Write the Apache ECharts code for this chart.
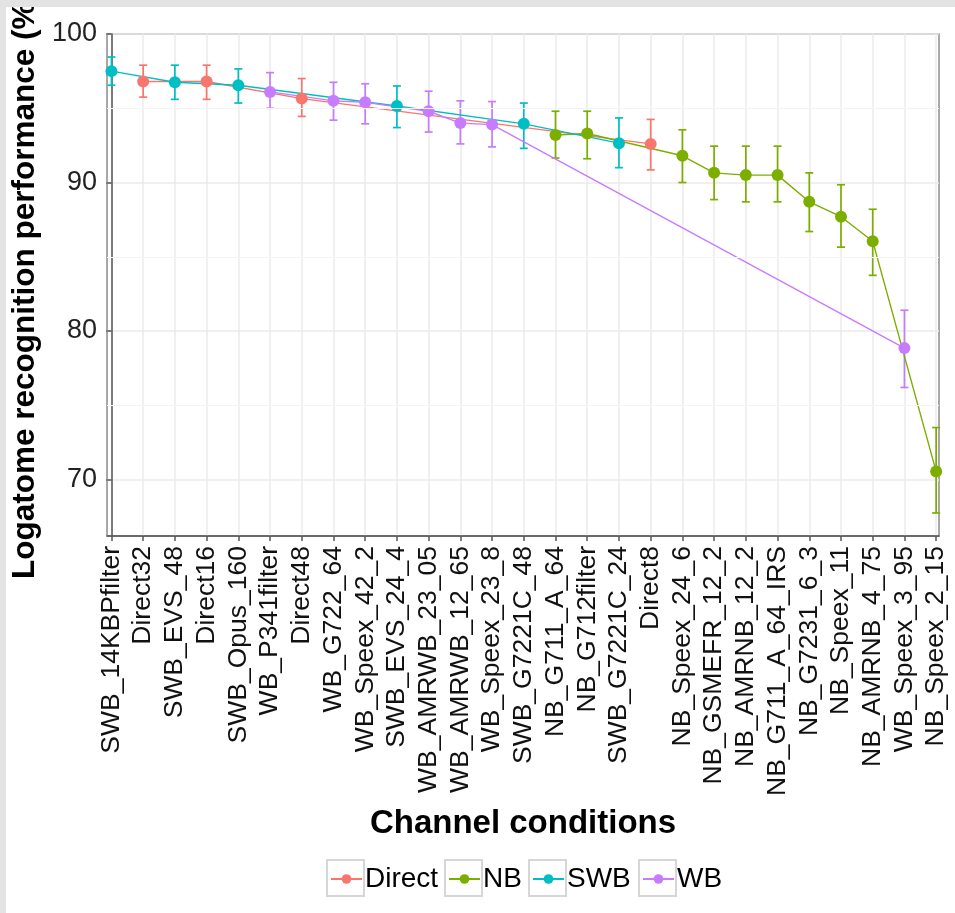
<!DOCTYPE html>
<html>
<head>
<meta charset="utf-8">
<script src="https://cdn.jsdelivr.net/npm/echarts@6/dist/echarts.min.js"></script>
<style>
  html, body { margin: 0; padding: 0; background: #fff; }
  #chart { width: 955px; height: 913px; }
</style>
</head>
<body>
<div id="chart"></div>
<script>
var categories = ['SWB_14KBPfilter', 'Direct32', 'SWB_EVS_48', 'Direct16', 'SWB_Opus_160',
    'WB_P341filter', 'Direct48', 'WB_G722_64', 'WB_Speex_42_2', 'SWB_EVS_24_4',
    'WB_AMRWB_23_05', 'WB_AMRWB_12_65', 'WB_Speex_23_8', 'SWB_G7221C_48', 'NB_G711_A_64',
    'NB_G712filter', 'SWB_G7221C_24', 'Direct8', 'NB_Speex_24_6', 'NB_GSMEFR_12_2',
    'NB_AMRNB_12_2', 'NB_G711_A_64_IRS', 'NB_G7231_6_3', 'NB_Speex_11', 'NB_AMRNB_4_75',
    'WB_Speex_3_95', 'NB_Speex_2_15'];
var groups = ['SWB', 'Direct', 'SWB', 'Direct', 'SWB', 'WB', 'Direct', 'WB', 'WB', 'SWB',
    'WB', 'WB', 'WB', 'SWB', 'NB', 'NB', 'SWB', 'Direct', 'NB', 'NB',
    'NB', 'NB', 'NB', 'NB', 'NB', 'WB', 'NB'];
var means = [97.5, 96.8, 96.75, 96.8, 96.55, 96.1, 95.65, 95.5, 95.4, 95.15,
    94.8, 94.0, 93.9, 93.95, 93.2, 93.3, 92.65, 92.6, 91.8, 90.65,
    90.5, 90.5, 88.7, 87.7, 86.05, 78.85, 70.55];
var lows = [96.55, 95.75, 95.6, 95.6, 95.35, 95.0, 94.45, 94.2, 93.95, 93.7,
    93.4, 92.6, 92.4, 92.3, 91.65, 91.6, 91.0, 90.85, 90.0, 88.85,
    88.7, 88.7, 86.7, 85.65, 83.75, 76.2, 67.75];
var highs = [98.45, 97.9, 97.9, 97.9, 97.65, 97.4, 97.0, 96.75, 96.65, 96.5,
    96.15, 95.5, 95.45, 95.35, 94.8, 94.8, 94.35, 94.25, 93.55, 92.45,
    92.45, 92.45, 90.65, 89.85, 88.2, 81.4, 73.5];
var groupNames = ['Direct', 'NB', 'SWB', 'WB'];
var yTicks = [70, 80, 90, 100];
var yMinor = [75, 85, 95];

var colors = {Direct: '#F8766D', NB: '#7CAE00', SWB: '#00BFC4', WB: '#C77CFF'};
var font = "'Liberation Sans', Arial, sans-serif";
var xIdx = categories.map(function (c, i) { return i; });

// error bars, one item per category
var barData = categories.map(function (c, i) {
    return {value: [i, lows[i], highs[i]], itemStyle: {color: colors[groups[i]]}};
});

function renderErrorBar(params, api) {
    var top = api.coord([api.value(0), api.value(2)]);
    var bot = api.coord([api.value(0), api.value(1)]);
    var w = 4;
    var style = {stroke: api.visual('color'), lineWidth: 1.7};
    return {
        type: 'group',
        children: [
            {type: 'line', shape: {x1: top[0], y1: top[1], x2: bot[0], y2: bot[1]}, style: style},
            {type: 'line', shape: {x1: top[0] - w, y1: top[1], x2: top[0] + w, y2: top[1]}, style: style},
            {type: 'line', shape: {x1: bot[0] - w, y1: bot[1], x2: bot[0] + w, y2: bot[1]}, style: style}
        ]
    };
}

var series = [{
    type: 'custom',
    renderItem: renderErrorBar,
    data: barData,
    z: 3,
    markLine: {
        silent: true,
        symbol: 'none',
        label: {show: false},
        lineStyle: {color: '#F4F4F4', type: 'solid', width: 1},
        data: yMinor.map(function (v) { return {yAxis: v}; })
    }
}];
groupNames.forEach(function (g) {
    var pts = [];
    categories.forEach(function (c, i) {
        if (groups[i] === g) pts.push([i, means[i]]);
    });
    series.push({
        name: g,
        type: 'line',
        data: pts,
        symbol: 'circle',
        symbolSize: 12,
        showSymbol: true,
        itemStyle: {color: colors[g]},
        lineStyle: {color: colors[g], width: 1.4},
        z: 4
    });
});

var legends = [];
var boxes = [];
var keyLeft = [327, 445, 529, 639];
groupNames.forEach(function (g, k) {
    legends.push({
        data: [g],
        left: keyLeft[k] + 3,
        top: 865,
        padding: 0,
        itemWidth: 31,
        itemHeight: 12,
        selectedMode: false,
        textStyle: {fontSize: 28, color: '#000', fontFamily: font, padding: [0, 0, 0, -2]}
    });
    boxes.push({
        type: 'rect',
        shape: {x: keyLeft[k], y: 860, width: 37, height: 36},
        style: {fill: '#fff', stroke: '#D6D6D6', lineWidth: 2},
        z: -1
    });
});

var chart = echarts.init(document.getElementById('chart'));
var option = {
    backgroundColor: '#fff',
    animation: false,
    textStyle: {fontFamily: font},
    graphic: [
        {type: 'rect', shape: {x: 0, y: 0, width: 955, height: 7}, style: {fill: '#E3E3E3'}, z: 10},
        {type: 'rect', shape: {x: 0, y: 0, width: 6, height: 913}, style: {fill: '#E3E3E3'}, z: 10}
    ].concat(boxes),
    legend: legends,
    grid: {
        left: 107,
        top: 34,
        right: 16,
        bottom: 377,
        outerBoundsMode: 'none',
        show: true,
        borderColor: '#8C8C8C',
        borderWidth: 1.5
    },
    xAxis: {
        type: 'value',
        min: -0.14,
        max: 26.09,
        name: 'Channel conditions',
        nameLocation: 'middle',
        nameGap: 271,
        nameTextStyle: {fontSize: 33, fontWeight: 'bold', color: '#000', fontFamily: font},
        axisLine: {show: true, lineStyle: {color: '#555', width: 1.5}},
        axisTick: {show: true, length: 5, lineStyle: {color: '#555', width: 1.5}, customValues: xIdx},
        axisLabel: {
            customValues: xIdx,
            rotate: 90,
            margin: 10,
            fontSize: 26.5,
            color: '#111',
            fontFamily: font,
            formatter: function (v) { return categories[v]; }
        },
        splitLine: {show: true, lineStyle: {color: '#EBEBEB', width: 1.5}}
    },
    yAxis: {
        type: 'value',
        min: 66.2,
        max: 100,
        name: 'Logatome recognition performance (%)',
        nameLocation: 'middle',
        nameGap: 60,
        nameTextStyle: {fontSize: 31.5, fontWeight: 'bold', color: '#000', fontFamily: font},
        axisLine: {show: true, lineStyle: {color: '#555', width: 1.5}},
        axisTick: {show: true, length: 5, lineStyle: {color: '#555', width: 1.5}, customValues: yTicks},
        axisLabel: {customValues: yTicks, margin: 10, fontSize: 27, color: '#222', fontFamily: font},
        splitLine: {show: true, lineStyle: {color: '#EBEBEB', width: 1.5}}
    },
    series: series
};
chart.setOption(option);
</script>
</body>
</html>
